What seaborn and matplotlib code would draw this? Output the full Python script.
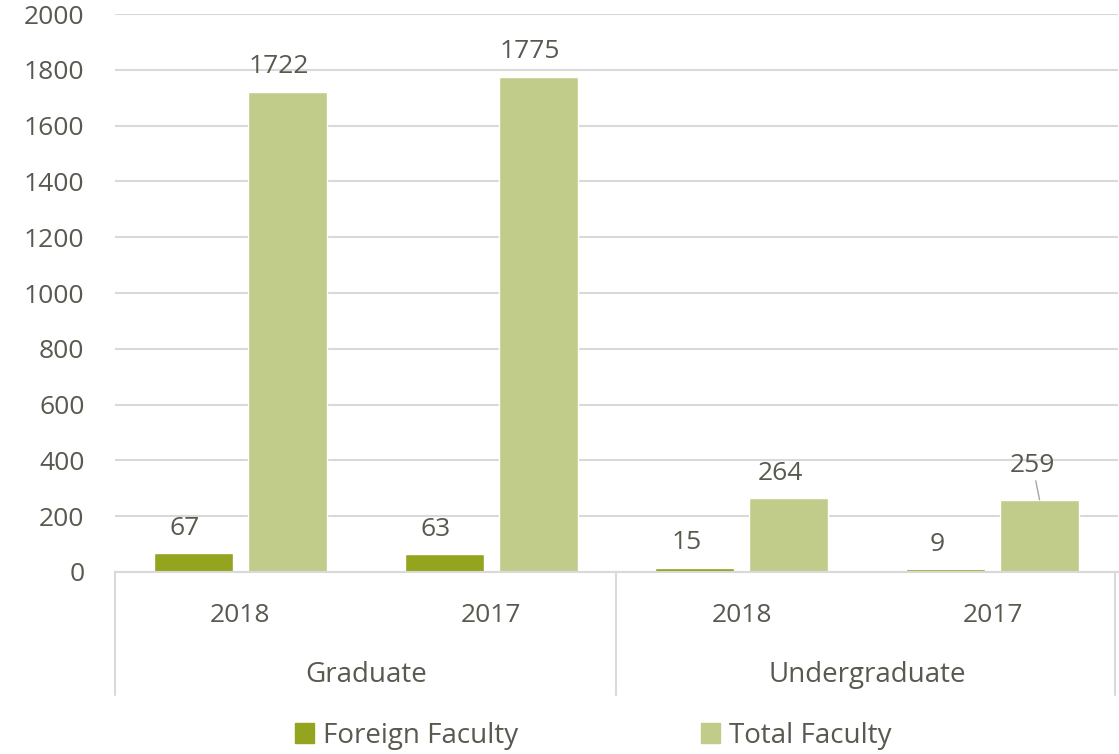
import pandas as pd
import matplotlib.pyplot as plt
import seaborn as sns
from matplotlib.lines import Line2D
from matplotlib.transforms import blended_transform_factory

groups = ["Graduate", "Graduate", "Undergraduate", "Undergraduate"]
years = ["2018", "2017", "2018", "2017"]
foreign_faculty = [67, 63, 15, 9]
total_faculty = [1722, 1775, 264, 259]

series_names = ["Foreign Faculty", "Total Faculty"]
colors = ["#95a41e", "#c2cc8a"]
text_color = "#595950"
grid_color = "#d9d9d9"

cats = [f"{g} {y}" for g, y in zip(groups, years)]
df = pd.DataFrame({
    "Category": cats * 2,
    "Series": [series_names[0]] * 4 + [series_names[1]] * 4,
    "Count": foreign_faculty + total_faculty,
})

sns.set_style("white")
plt.rcParams["font.family"] = ["Open Sans", "DejaVu Sans"]

fig = plt.figure(figsize=(11.19, 7.54), dpi=100)
ax = fig.add_axes([0.1028, 0.2414, 0.8962, 0.74])

sns.barplot(data=df, x="Category", y="Count", hue="Series", order=cats,
            hue_order=series_names, palette=colors, width=0.75, gap=0.16,
            saturation=1, ax=ax, legend=True)

ax.set_ylim(0, 2000)
ax.set_xlim(-0.5, 3.5)
ax.set_yticks(range(0, 2001, 200))
ax.yaxis.grid(True, color=grid_color, linewidth=1.5)
ax.set_axisbelow(True)
for s in ["top", "right", "left"]:
    ax.spines[s].set_visible(False)
ax.spines["bottom"].set_color(grid_color)
ax.spines["bottom"].set_linewidth(1.5)
ax.tick_params(axis="y", length=0, pad=22, labelsize=19, labelcolor=text_color)
ax.tick_params(axis="x", length=0, pad=22, labelsize=19, labelcolor=text_color)
ax.set_xticks(range(4))
ax.set_xticklabels(years)
ax.set_xlabel("")
ax.set_ylabel("")

# data labels
for ci, cont in enumerate(ax.containers):
    for bi, bar in enumerate(cont):
        h = bar.get_height()
        xc = bar.get_x() + bar.get_width() / 2
        if ci == 1 and bi == 3:
            ax.annotate(f"{h:.0f}", xy=(xc, h), xytext=(-5, 16),
                        textcoords="offset points", ha="center", va="bottom",
                        fontsize=19, color=text_color,
                        arrowprops=dict(arrowstyle="-", color="#a6a6a6",
                                        lw=1, shrinkA=0, shrinkB=0))
        else:
            ax.annotate(f"{h:.0f}", xy=(xc, h), xytext=(-6, 9),
                        textcoords="offset points", ha="center", va="bottom",
                        fontsize=19, color=text_color)

# group labels and separators
trans = blended_transform_factory(ax.transData, ax.transAxes)
for xs in [-0.5, 1.5, 3.49]:
    ax.add_line(Line2D([xs, xs], [0, -0.22], transform=trans, color=grid_color,
                       linewidth=1.5, clip_on=False))
for xg, name in [(0.5, "Graduate"), (2.5, "Undergraduate")]:
    ax.text(xg, -0.185, name, transform=trans, ha="center", va="center",
            fontsize=20, color=text_color)

ax.legend_.remove()
handles = [plt.Rectangle((0, 0), 1, 1, color=c) for c in colors]
fig.legend(handles, series_names, loc="center", bbox_to_anchor=(0.53, 0.024),
           ncol=2, frameon=False, fontsize=20, labelcolor=text_color,
           handlelength=0.7, handleheight=0.7, handletextpad=0.3,
           columnspacing=6.6)

fig.savefig("out.png", dpi=100)
